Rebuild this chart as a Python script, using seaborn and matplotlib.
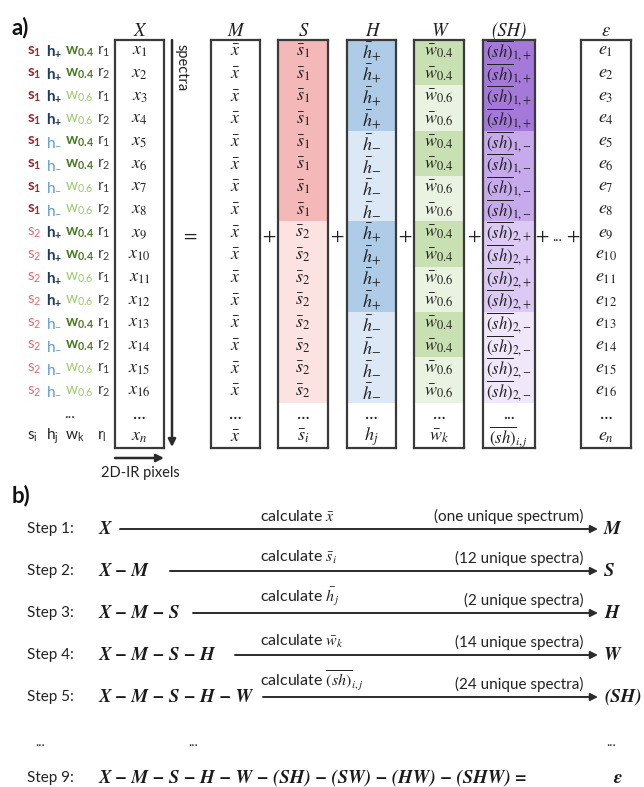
import matplotlib
matplotlib.use("Agg")
import matplotlib.pyplot as plt
import numpy as np
import pandas as pd
import seaborn as sns
from matplotlib.colors import ListedColormap

# ---------------- data ----------------
row_index = [1, 2, 3, 4, 5, 6, 7, 8, 9, 10, 11, 12, 13, 14, 15, 16]
row_s = ["1", "1", "1", "1", "1", "1", "1", "1", "2", "2", "2", "2", "2", "2", "2", "2"]
row_h = ["+", "+", "+", "+", "-", "-", "-", "-", "+", "+", "+", "+", "-", "-", "-", "-"]
row_w = ["0.4", "0.4", "0.6", "0.6", "0.4", "0.4", "0.6", "0.6",
         "0.4", "0.4", "0.6", "0.6", "0.4", "0.4", "0.6", "0.6"]
row_r = ["1", "2", "1", "2", "1", "2", "1", "2", "1", "2", "1", "2", "1", "2", "1", "2"]

column_titles = ["X", "M", "S", "H", "W", "(SH)", "ε"]

step_names = ["Step 1:", "Step 2:", "Step 3:", "Step 4:", "Step 5:"]
step_inputs = ["X", "X − M", "X − M − S", "X − M − S − H", "X − M − S − H − W"]
step_calc = [r"calculate $\bar{x}$", r"calculate $\bar{s}_i$", r"calculate $\bar{h}_j$",
             r"calculate $\bar{w}_k$", r"calculate $\overline{(sh)}_{i,j}$"]
step_counts = ["(one unique spectrum)", "(12 unique spectra)", "(2 unique spectra)",
               "(14 unique spectra)", "(24 unique spectra)"]
step_outputs = ["M", "S", "H", "W", "(SH)"]
final_name = "Step 9:"
final_expr = "X − M − S − H − W − (SH) − (SW) − (HW) − (SHW) ="
final_output = "ε"

# colours
s_colors = {"1": "#F5B8B8", "2": "#FDE2E2"}
h_colors = {"+": "#AECBE7", "-": "#DCE8F5"}
w_colors = {"0.4": "#C8E0B2", "0.6": "#EAF3E1"}
sh_colors = {("1", "+"): "#A479DA", ("1", "-"): "#C7AAEB",
             ("2", "+"): "#DCC9F4", ("2", "-"): "#F0E7FB"}
lab_s = {"1": ("#9A2A2A", True), "2": ("#E46A6A", False)}
lab_h = {"+": ("#1F3A66", True), "-": ("#5C9BD5", False)}
lab_w = {"0.4": ("#4A7A24", True), "0.6": ("#9CCB6C", False)}

# ---------------- style ----------------
sns.set_theme(style="white")
plt.rcParams["font.family"] = ["Lato", "DejaVu Sans"]
plt.rcParams["mathtext.fontset"] = "stix"
plt.rcParams["mathtext.rm"] = "Lato"
plt.rcParams["mathtext.it"] = "Lato:italic"
plt.rcParams["mathtext.bf"] = "Lato:bold"
plt.rcParams["mathtext.sf"] = "Lato"

W_PX, H_PX = 644, 787
fig = plt.figure(figsize=(W_PX / 100, H_PX / 100), dpi=100)
fig.patch.set_facecolor("white")
ov = fig.add_axes([0, 0, 1, 1])
ov.set_xlim(0, W_PX)
ov.set_ylim(H_PX, 0)
ov.axis("off")

INK = "#2b2b2b"
BOX_TOP, BOX_BOT = 40, 448

def col_axes(x0, x1):
    return fig.add_axes([x0 / W_PX, 1 - BOX_BOT / H_PX, (x1 - x0) / W_PX, (BOX_BOT - BOX_TOP) / H_PX])

dots = "..."
n = len(row_index)
columns = [
    # (x0, x1, codes, colours, labels, fontsize)
    (115, 164, [0] * n, ["white"],
     [f"$x_{{{i}}}$" for i in row_index] + [dots, "$x_n$"], 13),
    (211, 260, [0] * n, ["white"],
     [r"$\bar{x}$"] * n + [dots, r"$\bar{x}$"], 13),
    (278, 328, [1 if s == "1" else 2 for s in row_s], ["white", s_colors["1"], s_colors["2"]],
     [rf"$\bar{{s}}_{{{s}}}$" for s in row_s] + [dots, r"$\bar{s}_i$"], 13),
    (347, 396, [1 if h == "+" else 2 for h in row_h], ["white", h_colors["+"], h_colors["-"]],
     [rf"$\bar{{h}}_{{{h}}}$" for h in row_h] + [dots, r"$h_j$"], 13),
    (414, 464, [1 if w == "0.4" else 2 for w in row_w], ["white", w_colors["0.4"], w_colors["0.6"]],
     [rf"$\bar{{w}}_{{{w}}}$" for w in row_w] + [dots, r"$\bar{w}_k$"], 13),
    (483, 535, [list(sh_colors).index((s, h)) + 1 for s, h in zip(row_s, row_h)],
     ["white"] + list(sh_colors.values()),
     [rf"$\overline{{(sh)}}_{{{s},{{{h}}}}}$" for s, h in zip(row_s, row_h)]
     + [dots, r"$\overline{(sh)}_{i,j}$"], 12),
    (581, 631, [0] * n, ["white"],
     [f"$e_{{{i}}}$" for i in row_index] + [dots, "$e_n$"], 13),
]

for (x0, x1, codes, cols, labels, fs), title in zip(columns, column_titles):
    ax = col_axes(x0, x1)
    data = np.array(codes + [0, 0]).reshape(-1, 1)
    annot = np.array(labels, dtype=object).reshape(-1, 1)
    sns.heatmap(data, ax=ax, cmap=ListedColormap(cols), vmin=-0.5, vmax=len(cols) - 0.5,
                cbar=False, annot=annot, fmt="", xticklabels=False, yticklabels=False,
                annot_kws={"fontsize": fs, "color": "#222222"})
    for sp in ax.spines.values():
        sp.set_visible(True)
        sp.set_linewidth(1.6)
        sp.set_edgecolor("#3a3a3a")
    ov.text((x0 + x1) / 2, 31, title, ha="center", va="center", fontsize=13.5,
            family="STIXGeneral", style="italic", color="#222222")

# row labels on the left
row_h_px = (BOX_BOT - BOX_TOP) / 18
for k in range(n):
    yc = BOX_TOP + row_h_px * (k + 0.5)
    for x, (col, bold), base, sub in [
        (27, lab_s[row_s[k]], "s", row_s[k]),
        (46, lab_h[row_h[k]], "h", row_h[k]),
        (65, lab_w[row_w[k]], "w", row_w[k]),
        (97, ("#3a3a3a", False), "r", row_r[k]),
    ]:
        f = r"\mathbf" if bold else r"\mathrm"
        s = rf"${f}{{{base}}}_{{{f}{{{sub}}}}}$"
        ov.text(x, yc, s, ha="left", va="center", fontsize=11, color=col, math_fontfamily="custom")
yc = BOX_TOP + row_h_px * 16.5
ov.text(70, yc, "...", ha="center", va="center", fontsize=11, color="#333333")
yc = BOX_TOP + row_h_px * 17.5
for x, s in [(27, r"$\mathrm{s}_\mathrm{i}$"), (46, r"$\mathrm{h}_\mathrm{j}$"),
             (65, r"$\mathrm{w}_\mathrm{k}$"), (97, r"$\mathrm{r}_\mathrm{l}$")]:
    ov.text(x, yc, s, ha="left", va="center", fontsize=11, color="#222222", math_fontfamily="custom")

# panel labels
ov.text(12, 28, "a)", ha="left", va="center", fontsize=16, fontweight="bold", color="#111111")
ov.text(12, 496, "b)", ha="left", va="center", fontsize=16, fontweight="bold", color="#111111")

# spectra / pixel arrows
ov.annotate("", xy=(172, 447), xytext=(172, 40),
            arrowprops=dict(arrowstyle="-|>", lw=1.8, color=INK, mutation_scale=11, shrinkA=0, shrinkB=0))
ov.text(182, 44, "spectra", rotation=-90, ha="center", va="top", fontsize=10.5, color="#222222")
ov.annotate("", xy=(164, 458), xytext=(115, 458),
            arrowprops=dict(arrowstyle="-|>", lw=1.8, color=INK, mutation_scale=11, shrinkA=0, shrinkB=0))
ov.text(140, 466, "2D-IR pixels", ha="center", va="top", fontsize=10.5, color="#222222")

# operators between columns
serif = dict(family="STIXGeneral", fontsize=14, color="#222222", ha="center", va="center")
ov.text(190, 237, "=", **serif)
for x in [269, 337, 405, 474, 542, 573]:
    ov.text(x, 237, "+", **serif)
ov.text(557, 237, "...", ha="center", va="center", fontsize=10, color="#222222")

# ---------------- panel b ----------------
step_y = [529, 571, 613, 655, 697]
arrow_start = [120, 170, 193, 235, 263]
bi = dict(family="STIXGeneral", style="italic", fontweight="bold", fontsize=13.5, color="#1a1a1a")
for y, name, inp, calc, cnt, out, xs in zip(step_y, step_names, step_inputs, step_calc,
                                           step_counts, step_outputs, arrow_start):
    ov.text(27, y, name, ha="left", va="center", fontsize=11, color="#222222")
    ov.text(98, y, inp, ha="left", va="center", **bi)
    ov.annotate("", xy=(598, y), xytext=(xs, y),
                arrowprops=dict(arrowstyle="-|>", lw=1.4, color=INK, mutation_scale=11,
                                shrinkA=0, shrinkB=0))
    ov.text(260, y - 5, calc, ha="left", va="bottom", fontsize=11.5, color="#222222")
    ov.text(584, y - 5, cnt, ha="right", va="bottom", fontsize=11, color="#222222")
    ov.text(604, y, out, ha="left", va="center", **bi)

ov.text(40, 742, "...", ha="center", va="center", fontsize=10, color="#333333")
ov.text(193, 742, "...", ha="center", va="center", fontsize=10, color="#333333")
ov.text(611, 742, "...", ha="center", va="center", fontsize=10, color="#333333")
ov.text(27, 778, final_name, ha="left", va="center", fontsize=11, color="#222222")
ov.text(98, 778, final_expr, ha="left", va="center", **bi)
ov.text(613, 778, final_output, ha="left", va="center", **bi)

fig.savefig("out.png", dpi=100, facecolor="white")
